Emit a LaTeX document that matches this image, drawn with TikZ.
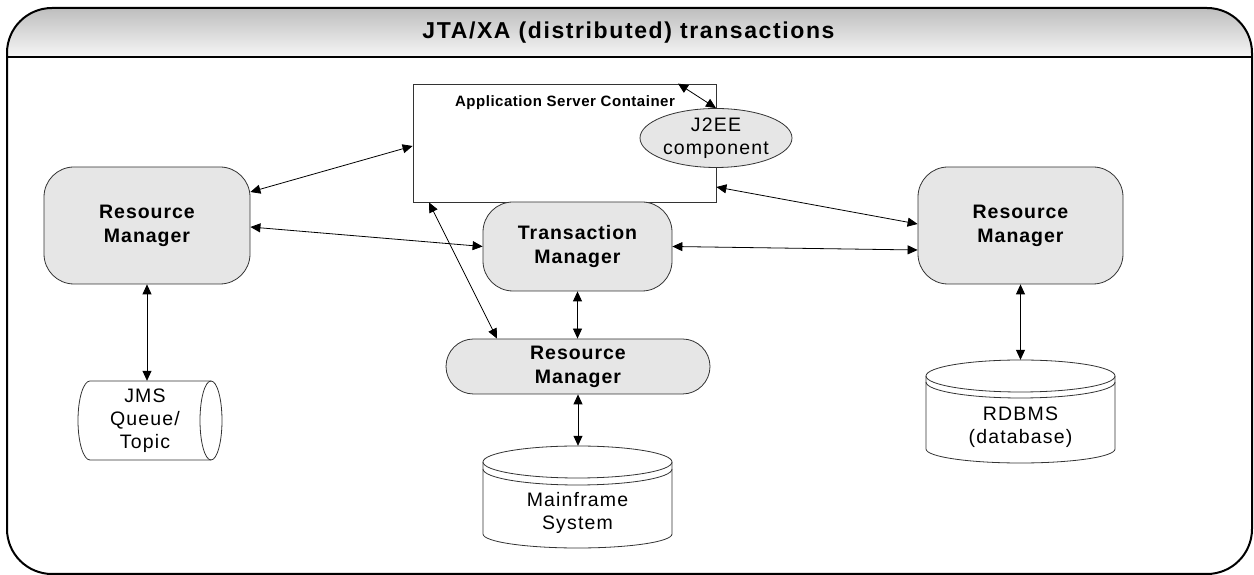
\documentclass[tikz,border=0pt]{standalone}
\usepackage{fontspec}
\setmainfont{Liberation Sans}
\newfontfamily\spc{Liberation Sans}[LetterSpace=5]
\newfontfamily\rgfont{Liberation Sans}[LetterSpace=6]
\newfontfamily\ttlfont{Liberation Sans}[LetterSpace=7]
\newfontfamily\asfont{Liberation Sans}[LetterSpace=3.5]
\usetikzlibrary{arrows.meta,shapes.geometric,calc}
\definecolor{boxfill}{HTML}{E6E6E6}
\definecolor{edgec}{HTML}{333333}
\definecolor{hdtop}{HTML}{BEBEBE}
\definecolor{hdbot}{HTML}{F6F6F6}
\tikzset{
  rmbox/.style={draw=edgec, line width=0.8pt, fill=boxfill, rounded corners=30pt, inner sep=0pt, align=center, font=\spc\bfseries\fontsize{19.5}{24}\selectfont},
  plaintext/.style={align=center, inner sep=0pt, font=\rgfont\fontsize{19.5}{23}\selectfont},
  link/.style={line width=0.8pt, {Triangle[length=10pt,width=9pt]}-{Triangle[length=10pt,width=9pt]}},
  shapeline/.style={draw=edgec, line width=0.8pt, fill=white},
  holder/.style={inner sep=0pt, minimum width=#1},
}
\begin{document}
\begin{tikzpicture}[x=1pt,y=1pt]
\useasboundingbox (0,0) rectangle (1254,575);
% header band
\shade[top color=hdtop, bottom color=hdbot] (7,518) -- (7,522) arc[start angle=180,end angle=90,radius=45] -- (1207,567) arc[start angle=90,end angle=0,radius=45] -- (1252,518) -- cycle;
\draw[line width=2pt, rounded corners=45pt] (7,1) rectangle (1252,567);
\draw[line width=2pt] (7,518) -- (1252,518);
\node[font=\ttlfont\bfseries\fontsize{23}{26}\selectfont, inner sep=0pt] (title) at (628.5,542) {JTA/XA (distributed) transactions};

% application server container
\node[draw=edgec, line width=0.8pt, fill=white, minimum width=303pt, minimum height=118pt, inner sep=0pt] (as) at (564.5,432) {};
\node[font=\asfont\bfseries\fontsize{15}{17}\selectfont, inner sep=0pt] (aslabel) at (565,472) {Application Server Container};
\node[ellipse, draw=edgec, line width=0.8pt, fill=boxfill, minimum width=152pt, minimum height=59pt, plaintext] (j2ee) at (716,437) {J2EE\\component};

% managers
\node[rmbox, minimum width=206pt, minimum height=117pt] (lrm) at (147,349.5) {Resource\\Manager};
\node[rmbox, minimum width=189pt, minimum height=89pt] (tm) at (577.5,328.5) {Transaction\\Manager};
\node[rmbox, minimum width=205pt, minimum height=117pt] (rrm) at (1020.5,349.5) {Resource\\Manager};
\node[rmbox, rounded corners=27.5pt, minimum width=264pt, minimum height=55pt] (mrm) at (578,208.5) {Resource\\Manager};

% RDBMS cylinder
\draw[shapeline] (926,199) -- (926,126) arc[start angle=180,end angle=360,x radius=94.5,y radius=14] -- (1115,199) arc[start angle=0,end angle=180,x radius=94.5,y radius=16] -- cycle;
\draw[edgec, line width=0.8pt] (926,199) arc[start angle=180,end angle=360,x radius=94.5,y radius=16];
\draw[edgec, line width=0.8pt] (926,193) arc[start angle=180,end angle=360,x radius=94.5,y radius=16];
\node[holder=189pt, minimum height=103pt] (rdb) at (1020.5,163.5) {};
\node[plaintext] (rdbtext) at (1020.5,148) {RDBMS\\(database)};

% Mainframe cylinder
\draw[shapeline] (483,113) -- (483,41) arc[start angle=180,end angle=360,x radius=94.5,y radius=14] -- (672,113) arc[start angle=0,end angle=180,x radius=94.5,y radius=16] -- cycle;
\draw[edgec, line width=0.8pt] (483,113) arc[start angle=180,end angle=360,x radius=94.5,y radius=16];
\draw[edgec, line width=0.8pt] (483,106) arc[start angle=180,end angle=360,x radius=94.5,y radius=16];
\node[holder=189pt, minimum height=102pt] (mf) at (577.5,78) {};
\node[plaintext] (mftext) at (577.5,62) {Mainframe\\System};

% JMS queue (horizontal cylinder)
\draw[shapeline] (90,194) arc[start angle=90,end angle=270,x radius=12,y radius=39.5] -- (211,115) arc[start angle=-90,end angle=90,x radius=11,y radius=39.5] -- cycle;
\draw[edgec, line width=0.8pt] (211,194) arc[start angle=90,end angle=270,x radius=11,y radius=39.5];
\node[holder=144pt, minimum height=79pt] (jms) at (150,154.5) {};
\node[plaintext] (jmstext) at (145,154.5) {JMS\\Queue/\\Topic};

% connectors
\draw[link] ([yshift=33.5pt]lrm.east) -- ([yshift=-3pt]as.west);
\draw[link] ([yshift=-1.5pt]lrm.east) -- (tm.west);
\draw[link] ([xshift=-135.5pt]as.south) -- ([xshift=-81pt]mrm.north);
\draw[link] ([yshift=-44pt]as.east) -- ([yshift=1.5pt]rrm.west);
\draw[link] (tm.east) -- ([yshift=-24.5pt]rrm.west);
\draw[link] ([xshift=113.5pt]as.north) -- (j2ee.north);
\draw[link] (tm.south) -- (tm.south |- mrm.north);
\draw[link] (mrm.south) -- (mrm.south |- mf.north);
\draw[link] (rrm.south) -- (rrm.south |- rdb.north);
\draw[link] (lrm.south) -- (lrm.south |- jms.north);
\end{tikzpicture}
\end{document}
